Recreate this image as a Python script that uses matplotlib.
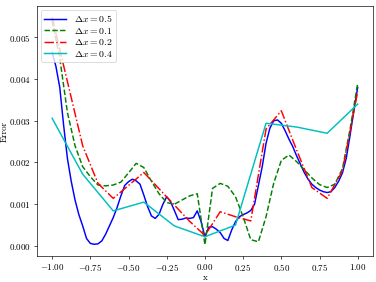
import numpy as np
import matplotlib
matplotlib.use("Agg")
import matplotlib.pyplot as plt

plt.rcParams['font.family'] = 'serif'
plt.rcParams['font.serif'] = ['cmr10']
plt.rcParams['mathtext.fontset'] = 'cm'
plt.rcParams['axes.formatter.use_mathtext'] = True

# Δx = 0.5 (blue, solid) on a 0.025 grid
x_blue = np.linspace(-1, 1, 81)
y_blue = [0.00464, 0.0043, 0.0038, 0.0029, 0.0021, 0.00155, 0.0011, 0.00075, 0.00048, 0.00018,
          0.00006, 0.00004, 0.00005, 0.00012, 0.00028, 0.00048, 0.00068, 0.00092, 0.0012, 0.00145,
          0.00154, 0.0016, 0.00156, 0.00148, 0.00122, 0.00094, 0.00072, 0.00066, 0.00076, 0.001,
          0.00118, 0.00106, 0.00085, 0.00063, 0.00064, 0.00067, 0.00066, 0.00068, 0.00084, 0.00058,
          0.00022, 0.00045, 0.00046, 0.0004, 0.00032, 0.00018, 0.00013, 0.00038, 0.00058, 0.0007,
          0.00075, 0.00079, 0.00085, 0.001, 0.00145, 0.0019, 0.00246, 0.00282, 0.003, 0.00302,
          0.00294, 0.00276, 0.00256, 0.00238, 0.00216, 0.00196, 0.00176, 0.0016, 0.00148, 0.0014,
          0.00134, 0.0013, 0.00128, 0.0013, 0.0014, 0.00155, 0.00175, 0.0021, 0.00265, 0.00325,
          0.0038]

# Δx = 0.1 (green, dashed) on a 0.05 grid
x_green = np.linspace(-1, 1, 41)
y_green = [0.0054, 0.0045, 0.0032, 0.0024, 0.0019, 0.00166, 0.00146, 0.00144, 0.00146, 0.00153,
           0.00175, 0.00198, 0.00188, 0.00155, 0.00125, 0.00104, 0.001, 0.0011, 0.0012, 0.00125,
           0.00003, 0.00138, 0.0015, 0.00143, 0.00118, 0.0007, 0.00015, 0.0001, 0.0007, 0.0015,
           0.00205, 0.00218, 0.00202, 0.00183, 0.00163, 0.00147, 0.0014, 0.00148, 0.00185, 0.0028,
           0.0039]

# Δx = 0.2 (red, dash-dot) on a 0.1 grid
x_red = np.linspace(-1, 1, 21)
y_red = [0.00548, 0.00394, 0.0024, 0.0015, 0.00114, 0.00145, 0.00176, 0.00137, 0.00098, 0.00059,
         0.00025, 0.00082, 0.0007, 0.0006, 0.0028, 0.00324, 0.0023, 0.0014, 0.00114, 0.0018,
         0.0037]

# Δx = 0.4 (cyan, solid) on a 0.2 grid
x_cyan = np.linspace(-1, 1, 11)
y_cyan = [0.00306, 0.00172, 0.00084, 0.00105, 0.00048, 0.00022, 0.0005, 0.00294, 0.00285, 0.0027,
          0.0034]

labels = [r'$\Delta x = 0.5$', r'$\Delta x = 0.1$', r'$\Delta x = 0.2$', r'$\Delta x = 0.4$']

fig = plt.figure(figsize=(6.4, 4.8), dpi=58.75)
ax = fig.add_axes([0.098, 0.092, 0.894, 0.887])
lw = 1.8
ax.plot(x_blue, y_blue, 'b-', lw=lw, label=labels[0])
ax.plot(x_green, y_green, 'g--', lw=lw, label=labels[1])
ax.plot(x_red, y_red, 'r-.', lw=lw, label=labels[2])
ax.plot(x_cyan, y_cyan, 'c-', lw=lw, label=labels[3])
ax.tick_params(labelsize=11)
ax.set_xlabel('x', fontsize=11)
ax.set_ylabel('Error', fontsize=11)
ax.xaxis.set_label_coords(0.5, -0.07)
ax.yaxis.set_label_coords(-0.085, 0.5)
ax.legend(loc='upper left', fontsize=12, borderaxespad=0.4, labelspacing=0.15,
          handlelength=2.2, borderpad=0.35)
fig.savefig('out.png', dpi=58.75)
